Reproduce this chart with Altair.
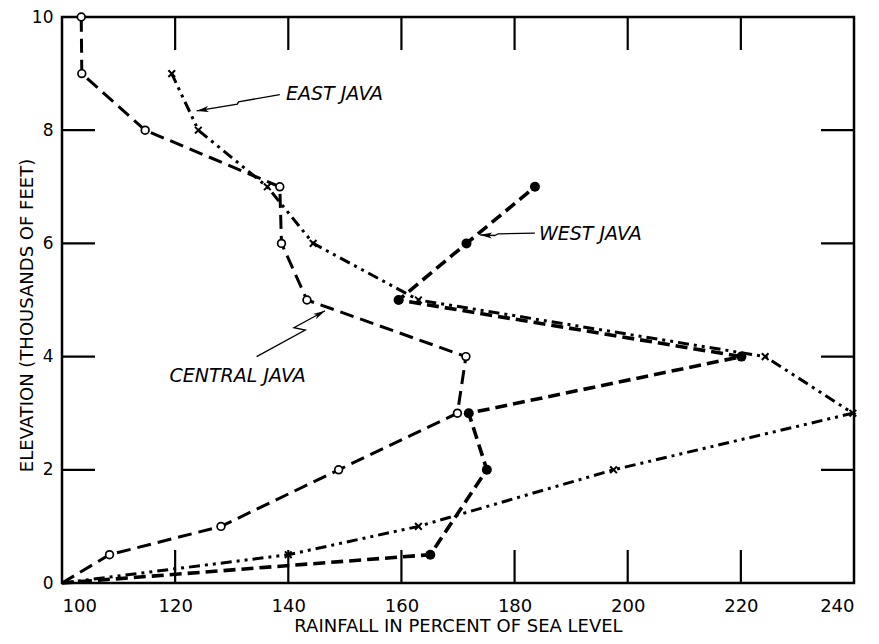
import altair as alt
import pandas as pd

# ---- data ----
central_x = [100, 108.4, 128.1, 148.9, 169.9, 171.4, 143.3, 138.8, 138.5, 114.7, 103.5, 103.4]
central_y = [0, 0.5, 1, 2, 3, 4, 5, 6, 7, 8, 9, 10]

east_x = [100, 140.0, 163.0, 197.5, 239.8, 224.3, 163.0, 144.4, 136.3, 124.1, 119.4]
east_y = [0, 0.5, 1, 2, 3, 4, 5, 6, 7, 8, 9]

west_x = [100, 165.1, 175.1, 171.9, 220.1, 159.5, 171.5, 183.6]
west_y = [0, 0.5, 2, 3, 4, 5, 6, 7]

x_tick_labels = [100, 120, 140, 160, 180, 200, 220, 240]
y_tick_labels = [0, 2, 4, 6, 8, 10]
inner_x_ticks = [120, 140, 160, 180, 200, 220]
inner_y_ticks = [2, 4, 6, 8]

label_names = ["EAST  JAVA", "WEST  JAVA", "CENTRAL  JAVA"]
label_x = [139.6, 184.3, 119.0]
label_y = [8.64, 6.16, 3.65]

east_arrow_x = [138.5, 131.2, 131.0, 123.8]
east_arrow_y = [8.63, 8.50, 8.46, 8.34]
west_arrow_x = [183.6, 177.1, 176.5, 173.9]
west_arrow_y = [6.18, 6.17, 6.14, 6.15]
central_arrow_x = [134.4, 143.0, 141.0, 146.5]
central_arrow_y = [4.00, 4.47, 4.51, 4.81]
arrow_angles = [261, 273, 61]

# ---- tables ----
def series(xs, ys, name):
    return pd.DataFrame({"x": xs, "y": ys, "order": list(range(len(xs))), "region": name})

central = series(central_x, central_y, "Central")
east = series(east_x, east_y, "East")
west = series(west_x, west_y, "West")

arrows = pd.concat([
    series(east_arrow_x, east_arrow_y, "East"),
    series(west_arrow_x, west_arrow_y, "West"),
    series(central_arrow_x, central_arrow_y, "Central"),
])
tips = pd.DataFrame({
    "x": [east_arrow_x[-1], west_arrow_x[-1], central_arrow_x[-1]],
    "y": [east_arrow_y[-1], west_arrow_y[-1], central_arrow_y[-1]],
    "angle": arrow_angles,
})
labels = pd.DataFrame({"x": label_x, "y": label_y, "label": label_names})

W, H = 792, 566
FONT = "DejaVu Sans"
TL = 33  # inward tick length

xenc = alt.X(
    "x:Q",
    scale=alt.Scale(domain=[100, 240], nice=False, zero=False),
    axis=alt.Axis(
        values=x_tick_labels, tickSize=0, domain=False, grid=False,
        labelFont=FONT, labelFontSize=18, labelColor="black", labelPadding=14,
        title="RAINFALL IN PERCENT OF SEA LEVEL", titleFont=FONT, titleFontSize=18,
        titleFontWeight="normal", titleColor="black", titleY=43, titleBaseline="middle",
    ),
)
yenc = alt.Y(
    "y:Q",
    scale=alt.Scale(domain=[0, 10], nice=False, zero=False),
    axis=alt.Axis(
        values=y_tick_labels, tickSize=0, domain=False, grid=False,
        labelFont=FONT, labelFontSize=17, labelColor="black", labelPadding=9,
        title="ELEVATION (THOUSANDS OF FEET)", titleFont=FONT, titleFontSize=18,
        titleFontWeight="normal", titleColor="black", titleX=-35, titleY=298,
        titleBaseline="middle", titleAlign="center", titleAngle=270,
    ),
)

central_line = alt.Chart(central).mark_line(
    color="black", strokeWidth=3, strokeDash=[14, 7]
).encode(x=xenc, y=yenc, order="order:Q")
west_line = alt.Chart(west).mark_line(
    color="black", strokeWidth=3.6, strokeDash=[12, 6]
).encode(x=xenc, y=yenc, order="order:Q")
east_line = alt.Chart(east).mark_line(
    color="black", strokeWidth=3, strokeDash=[11, 5, 3, 5, 3, 5]
).encode(x=xenc, y=yenc, order="order:Q")

central_pts = alt.Chart(central).transform_filter("datum.order > 0").mark_point(
    shape="circle", size=60, filled=True, fill="white", stroke="black",
    strokeWidth=1.7, opacity=1
).encode(x=xenc, y=yenc)
west_pts = alt.Chart(west).transform_filter("datum.order > 0").mark_point(
    shape="circle", size=100, filled=True, color="black", opacity=1
).encode(x=xenc, y=yenc)
east_pts = alt.Chart(east).transform_filter("datum.order > 0").mark_point(
    shape="M-1,-1L1,1M-1,1L1,-1", size=45, filled=False, color="black",
    strokeWidth=2, opacity=1
).encode(x=xenc, y=yenc)

tx = pd.DataFrame({"x": inner_x_ticks})
ty = pd.DataFrame({"y": inner_y_ticks})
bottom_ticks = alt.Chart(tx).mark_rule(color="black", strokeWidth=2.2).encode(
    x=xenc, y=alt.value(H), y2=alt.value(H - TL))
top_ticks = alt.Chart(tx).mark_rule(color="black", strokeWidth=2.2).encode(
    x=xenc, y=alt.value(0), y2=alt.value(TL))
left_ticks = alt.Chart(ty).mark_rule(color="black", strokeWidth=2.2).encode(
    y=yenc, x=alt.value(0), x2=alt.value(TL))
right_ticks = alt.Chart(ty).mark_rule(color="black", strokeWidth=2.2).encode(
    y=yenc, x=alt.value(W), x2=alt.value(W - TL))

arrow_lines = alt.Chart(arrows).mark_line(color="black", strokeWidth=1.3).encode(
    x=xenc, y=yenc, detail="region:N", order="order:Q")
arrow_heads = alt.Chart(tips).mark_point(
    shape="M0,0L-0.5,2L0,1.5L0.5,2Z", size=144, filled=True, color="black", opacity=1
).encode(x=xenc, y=yenc, angle=alt.Angle("angle:Q", scale=None))

texts = alt.Chart(labels).mark_text(
    align="left", baseline="middle", font=FONT, fontStyle="italic",
    fontSize=19, color="black"
).encode(x=xenc, y=yenc, text="label:N")

chart = alt.layer(
    central_line, west_line, east_line,
    central_pts, west_pts, east_pts,
    bottom_ticks, top_ticks, left_ticks, right_ticks,
    arrow_lines, arrow_heads, texts,
).properties(
    width=W, height=H,
    autosize=alt.AutoSizeParams(type="none"),
    padding={"left": 54, "top": 9, "right": 17, "bottom": 53},
    background="white",
).configure_view(stroke="black", strokeWidth=2.5)

chart.save("out.html", embed_options={"renderer": "svg", "actions": False})
